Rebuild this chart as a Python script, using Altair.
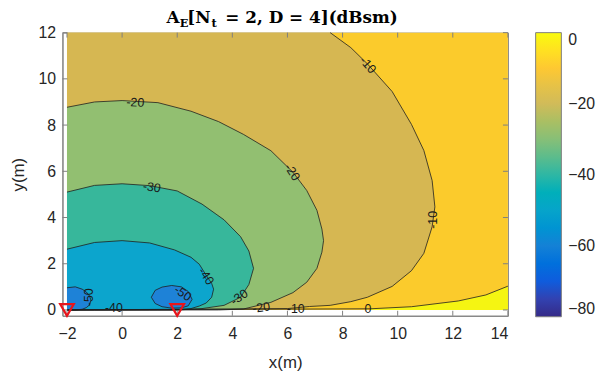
import altair as alt
import pandas as pd

# ---------------- data ----------------
x_ticks = [-2, 0, 2, 4, 6, 8, 10, 12, 14]
y_ticks = [0, 2, 4, 6, 8, 10, 12]

# colour bar (parula-like)
cbar_levels = [-80, -70, -60, -50, -40, -30, -20, -10, 0]
cbar_colors = ["#352A87", "#0F5CDD", "#1481D6", "#06A4CA", "#2EB7A4",
               "#87BF77", "#D1BB59", "#FEC832", "#F9FB0E"]
cbar_labels = [0, -20, -40, -60, -80]

# band fill colours
col_m10_0 = "#FBCB2C"   # -10 .. 0
col_gt0 = "#F5F512"     # > 0
col_m20 = "#D6B752"     # -20 .. -10
col_m30 = "#92BF71"     # -30 .. -20
col_m40 = "#37B79B"     # -40 .. -30
col_m50 = "#0CA5CD"     # -50 .. -40
col_lt50 = "#1E82D7"    # < -50

# contour 0 (region > 0, lower right corner)
c0_x = [9.0, 10.5, 12.2, 13.2, 14.0]
c0_up = [0.05, 0.14, 0.39, 0.65, 1.03]
c0_lo = [0.0, 0.0, 0.0, 0.0, 0.0]

# contour -10
c10_x = [-2.0, 6.0, 6.8, 7.55, 8.3, 8.9, 9.8, 10.5, 10.95, 11.25, 11.35]
c10_up = [12.0, 12.0, 12.0, 12.0, 11.35, 10.65, 9.45, 8.03, 6.9, 5.6, 4.46]
c10_lo = [0.0, 0.06, 0.15, 0.2, 0.36, 0.55, 1.02, 1.7, 2.45, 3.6, 4.46]

# contour -20
c20_x = [-2.0, -1.0, 0.0, 1.3, 2.5, 3.5, 4.4, 5.4, 6.2, 6.7, 7.07, 7.25, 7.31]
c20_up = [8.77, 9.0, 9.06, 8.97, 8.6, 8.15, 7.6, 6.89, 5.96, 5.17, 4.31, 3.5, 3.0]
c20_lo = [0.0, 0.0, 0.0, 0.0, 0.0, 0.0, 0.04, 0.33, 0.75, 1.2, 1.8, 2.5, 3.0]

# contour -30
c30_x = [-2.0, -1.0, 0.0, 1.0, 2.0, 2.9, 3.7, 4.3, 4.6, 4.77]
c30_up = [5.1, 5.39, 5.46, 5.38, 5.15, 4.58, 3.9, 3.17, 2.55, 1.8]
c30_lo = [0.0, 0.0, 0.0, 0.0, 0.0, 0.06, 0.2, 0.55, 1.1, 1.8]

# contour -40
c40_x = [-2.0, -1.0, 0.0, 1.0, 1.9, 2.5, 2.8, 3.05, 3.25, 3.32]
c40_up = [2.63, 2.92, 3.0, 2.9, 2.6, 2.28, 1.98, 1.5, 1.15, 0.9]
c40_lo = [0.0, 0.0, 0.0, 0.0, 0.0, 0.06, 0.17, 0.3, 0.55, 0.9]

# contour -50, left island
c50a_x = [-2.0, -1.7, -1.45, -1.3, -1.18, -1.13]
c50a_up = [0.96, 1.0, 0.9, 0.78, 0.6, 0.42]
c50a_lo = [0.0, 0.0, 0.03, 0.1, 0.22, 0.42]

# contour -50, right island
c50b_x = [1.06, 1.2, 1.45, 1.8, 2.15, 2.4, 2.54]
c50b_up = [0.55, 0.85, 0.99, 1.06, 1.0, 0.8, 0.46]
c50b_lo = [0.55, 0.28, 0.14, 0.08, 0.09, 0.18, 0.46]

# contour labels
lab_text = ["-10", "-10", "-10", "-20", "-20", "-20", "-30", "-30",
            "-40", "-40", "-50", "-50", "0"]
lab_x = [8.92, 11.28, 6.3, 0.48, 6.17, 5.05, 1.08, 4.25, 3.05, -0.3, -1.2, 2.2, 8.92]
lab_y = [10.6, 3.9, 0.06, 8.98, 5.96, 0.1, 5.31, 0.55, 1.46, 0.08, 0.55, 0.72, 0.05]
lab_ang = [48, 270, 0, 3, 57, 352, 8, 325, 55, 0, 270, 35, 0]

# transmitter markers
tx_x = [-2, 2]
tx_y = [0, 0]

# ---------------- layout ----------------
W, H = 450, 286
FONT = "Liberation Sans"
xscale = alt.Scale(domain=[-2.165, 14], nice=False, zero=False)
yscale = alt.Scale(domain=[-0.25, 12], nice=False, zero=False)
xaxis = alt.Axis(values=x_ticks, title="x(m)", grid=False, ticks=False, tickSize=0,
                 labelFontSize=16, labelPadding=10, titleFontSize=17,
                 titleFontWeight="normal", titlePadding=13, labelFont=FONT,
                 titleFont=FONT, domainColor="#808080", labelColor="#262626",
                 titleColor="#262626")
yaxis = alt.Axis(values=y_ticks, title="y(m)", grid=False, ticks=False, tickSize=0,
                 labelFontSize=16, labelPadding=7, titleFontSize=17,
                 titleFontWeight="normal", titlePadding=11, labelFont=FONT,
                 titleFont=FONT, domainColor="#808080", labelColor="#262626",
                 titleColor="#262626")


def X(f):
    return alt.X(f, type="quantitative", scale=xscale, axis=xaxis)


def Y(f):
    return alt.Y(f, type="quantitative", scale=yscale, axis=yaxis)


def band_df(xs, up, lo):
    return pd.DataFrame({"x": xs, "up": up, "lo": lo})


def path_df(name, xs, up, lo, closed=False):
    rows = []
    n = len(xs)
    for i in range(n):
        if up[i] >= 12 and i + 1 < n and up[i + 1] >= 12:
            continue
        rows.append((xs[i], up[i]))
    for i in range(n - 1, -1, -1):
        rows.append((xs[i], lo[i]))
    if closed:
        rows.append(rows[0])
    return pd.DataFrame({"lvl": name, "x": [r[0] for r in rows],
                         "y": [r[1] for r in rows], "o": list(range(len(rows)))})


def zero_path():
    xs = list(reversed(c0_x)) + [-2.0]
    ys = list(reversed(c0_up)) + [0.0]
    return pd.DataFrame({"lvl": "0", "x": xs, "y": ys, "o": list(range(len(xs)))})


# background band (-10..0)
bg = alt.Chart(pd.DataFrame({"a": [0]})).mark_rect(color=col_m10_0).encode(
    x=alt.X("xa:Q", scale=xscale, axis=xaxis), x2="xb:Q",
    y=alt.Y("ya:Q", scale=yscale, axis=yaxis), y2="yb:Q"
).transform_calculate(xa="-2", xb="14", ya="0", yb="12")


def band(xs, up, lo, color):
    return alt.Chart(band_df(xs, up, lo)).mark_area(color=color, orient="vertical").encode(
        x=X("x"), y=Y("up"), y2="lo")


layers = [bg,
          band(c0_x, c0_up, c0_lo, col_gt0),
          band(c10_x, c10_up, c10_lo, col_m20),
          band(c20_x, c20_up, c20_lo, col_m30),
          band(c30_x, c30_up, c30_lo, col_m40),
          band(c40_x, c40_up, c40_lo, col_m50),
          band(c50a_x, c50a_up, c50a_lo, col_lt50),
          band(c50b_x, c50b_up, c50b_lo, col_lt50)]

paths = pd.concat([
    zero_path(),
    path_df("-10", c10_x, c10_up, c10_lo),
    path_df("-20", c20_x, c20_up, c20_lo),
    path_df("-30", c30_x, c30_up, c30_lo),
    path_df("-40", c40_x, c40_up, c40_lo),
    path_df("-50a", c50a_x, c50a_up, c50a_lo),
    path_df("-50b", c50b_x, c50b_up, c50b_lo, closed=True),
], ignore_index=True)

lines = alt.Chart(paths).mark_line(color="#1e1e1e", strokeWidth=0.8).encode(
    x=X("x"), y=Y("y"), detail="lvl:N", order="o:Q")

labels = alt.Chart(pd.DataFrame({"t": lab_text, "x": lab_x, "y": lab_y, "a": lab_ang})).mark_text(
    font=FONT, fontSize=12.5, color="#1a1a1a", align="center", baseline="middle").encode(
    x=X("x"), y=Y("y"), text="t:N", angle=alt.Angle("a:Q", scale=None))

markers = alt.Chart(pd.DataFrame({"x": tx_x, "y": tx_y})).mark_point(
    shape="triangle-down", size=190, filled=False, color="#E8141B", strokeWidth=2.2,
    opacity=1, clip=False).encode(x=X("x"), y=Y("y"))

# inner ticks (MATLAB style)
xt = pd.DataFrame({"x": x_ticks})
yt = pd.DataFrame({"y": y_ticks})
tick_col = "#808080"
tb = alt.Chart(xt).mark_rule(color=tick_col).encode(x=X("x"), y=alt.value(H), y2=alt.value(H - 5))
tt = alt.Chart(xt).mark_rule(color=tick_col).encode(x=X("x"), y=alt.value(0), y2=alt.value(5))
tl = alt.Chart(yt).mark_rule(color=tick_col).encode(y=Y("y"), x=alt.value(0), x2=alt.value(5))
tr = alt.Chart(yt).mark_rule(color=tick_col).encode(y=Y("y"), x=alt.value(W), x2=alt.value(W - 5))

# colour bar via an invisible layer
cbar = alt.Chart(pd.DataFrame({"v": cbar_levels, "x": [0] * 9, "y": [0] * 9})).mark_point(
    opacity=0).encode(
    x=X("x"), y=Y("y"),
    color=alt.Color("v:Q", scale=alt.Scale(domain=cbar_levels, range=cbar_colors),
                    legend=alt.Legend(orient="none", legendX=478, legendY=0, title=None,
                                      values=cbar_labels, gradientLength=287,
                                      gradientThickness=26, labelFontSize=16, labelFont=FONT,
                                      labelColor="#262626", labelOffset=7,
                                      labelBaseline="middle", labelOverlap=False,
                                      gradientStrokeColor="#808080", gradientStrokeWidth=1,
                                      direction="vertical", padding=0)))

# title made of pieces (bold serif, with subscripts)
TF = "DejaVu Serif"
title_parts = ["A", "E", "[N", "t", "= 2, D = 4](dBsm)"]
title_px = [105, 118.5, 126, 150.5, 164.5]
title_py = [-9.5, -6, -9.5, -6, -9.5]
title_fs = [17, 11.5, 17, 11.5, 17]
tlayers = []
for s, px, py, fs in zip(title_parts, title_px, title_py, title_fs):
    tlayers.append(alt.Chart(pd.DataFrame({"t": [s]})).mark_text(
        font=TF, fontWeight="bold", fontSize=fs, align="left", baseline="alphabetic",
        color="#000000").encode(text="t:N", x=alt.value(px), y=alt.value(py)))

chart = alt.layer(*layers, lines, labels, tb, tt, tl, tr, markers, cbar, *tlayers).properties(
    width=W, height=H,
    autosize=alt.AutoSizeParams(type="none"),
    padding={"left": 55, "top": 23, "right": 90, "bottom": 60},
).configure_view(stroke="#808080", strokeWidth=1).configure_scale(continuousPadding=0)

chart.save("out.html", embed_options={"renderer": "svg", "actions": False})
